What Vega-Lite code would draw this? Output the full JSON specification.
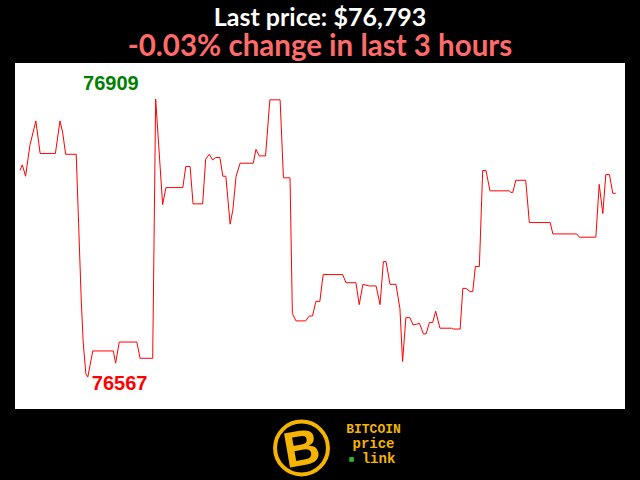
{
  "$schema": "https://vega.github.io/schema/vega-lite/v6.json",
  "background": "black",
  "padding": {"left": 15, "right": 15, "top": 5, "bottom": 0},
  "config": {"view": {"stroke": null}},
  "datasets": {
    "price": [
      {"minute": 0, "price": 76821}, {"minute": 0.7, "price": 76828}, {"minute": 1.7, "price": 76814},
      {"minute": 3.0, "price": 76852}, {"minute": 4.8, "price": 76882}, {"minute": 6.1, "price": 76842},
      {"minute": 10.7, "price": 76842}, {"minute": 12.1, "price": 76882}, {"minute": 12.9, "price": 76868},
      {"minute": 13.8, "price": 76841}, {"minute": 17.0, "price": 76841}, {"minute": 18.5, "price": 76663},
      {"minute": 19.1, "price": 76610}, {"minute": 19.9, "price": 76571}, {"minute": 20.5, "price": 76567},
      {"minute": 22.0, "price": 76599}, {"minute": 28.2, "price": 76599}, {"minute": 28.9, "price": 76584},
      {"minute": 30.0, "price": 76610}, {"minute": 35.3, "price": 76610}, {"minute": 36.3, "price": 76590},
      {"minute": 40.1, "price": 76590}, {"minute": 41.0, "price": 76909}, {"minute": 43.1, "price": 76779},
      {"minute": 44.1, "price": 76800}, {"minute": 49.2, "price": 76800}, {"minute": 50.1, "price": 76826},
      {"minute": 51.4, "price": 76826}, {"minute": 52.3, "price": 76780}, {"minute": 55.2, "price": 76780},
      {"minute": 56.1, "price": 76835}, {"minute": 57.2, "price": 76841}, {"minute": 58.2, "price": 76834},
      {"minute": 59.2, "price": 76837}, {"minute": 60.4, "price": 76837}, {"minute": 61.3, "price": 76814},
      {"minute": 62.2, "price": 76814}, {"minute": 63.5, "price": 76755}, {"minute": 64.3, "price": 76772},
      {"minute": 65.3, "price": 76814}, {"minute": 66.5, "price": 76830}, {"minute": 70.5, "price": 76830},
      {"minute": 71.3, "price": 76847}, {"minute": 72.3, "price": 76839}, {"minute": 74.2, "price": 76839},
      {"minute": 75.5, "price": 76908}, {"minute": 78.6, "price": 76908}, {"minute": 79.6, "price": 76812},
      {"minute": 81.6, "price": 76812}, {"minute": 82.3, "price": 76645}, {"minute": 83.4, "price": 76636},
      {"minute": 86.3, "price": 76636}, {"minute": 87.4, "price": 76642}, {"minute": 88.4, "price": 76642},
      {"minute": 89.4, "price": 76660}, {"minute": 90.6, "price": 76660}, {"minute": 91.6, "price": 76693},
      {"minute": 97.5, "price": 76693}, {"minute": 98.5, "price": 76683}, {"minute": 101.5, "price": 76683},
      {"minute": 102.5, "price": 76656}, {"minute": 103.6, "price": 76681}, {"minute": 105.5, "price": 76679},
      {"minute": 107.6, "price": 76679}, {"minute": 108.8, "price": 76656}, {"minute": 109.8, "price": 76709},
      {"minute": 110.6, "price": 76709}, {"minute": 111.8, "price": 76681}, {"minute": 113.6, "price": 76681},
      {"minute": 114.8, "price": 76651}, {"minute": 115.6, "price": 76586}, {"minute": 116.6, "price": 76640},
      {"minute": 117.8, "price": 76640}, {"minute": 118.8, "price": 76631}, {"minute": 119.9, "price": 76632},
      {"minute": 120.7, "price": 76633}, {"minute": 121.9, "price": 76620}, {"minute": 122.7, "price": 76620},
      {"minute": 123.7, "price": 76634}, {"minute": 124.7, "price": 76634}, {"minute": 125.6, "price": 76648},
      {"minute": 126.9, "price": 76627}, {"minute": 130.4, "price": 76627}, {"minute": 130.9, "price": 76626},
      {"minute": 133.0, "price": 76626}, {"minute": 133.8, "price": 76676}, {"minute": 134.8, "price": 76676},
      {"minute": 136.0, "price": 76672}, {"minute": 136.8, "price": 76672}, {"minute": 137.6, "price": 76703},
      {"minute": 138.8, "price": 76703}, {"minute": 139.8, "price": 76821}, {"minute": 140.8, "price": 76821},
      {"minute": 142.0, "price": 76796}, {"minute": 147.9, "price": 76796}, {"minute": 148.3, "price": 76794},
      {"minute": 148.9, "price": 76794}, {"minute": 149.8, "price": 76809}, {"minute": 152.8, "price": 76809},
      {"minute": 153.9, "price": 76757}, {"minute": 160.2, "price": 76757}, {"minute": 161.0, "price": 76743},
      {"minute": 168.2, "price": 76743}, {"minute": 169.0, "price": 76739}, {"minute": 174.0, "price": 76739},
      {"minute": 175.0, "price": 76804}, {"minute": 176.1, "price": 76768}, {"minute": 177.0, "price": 76816},
      {"minute": 178.1, "price": 76816}, {"minute": 179.1, "price": 76793}, {"minute": 180, "price": 76793}
    ],
    "logo": [{"word": "BITCOIN"}, {"word": "price"}, {"word": "link"}]
  },
  "spacing": 4,
  "center": true,
  "vconcat": [
    {
      "width": 610,
      "height": 346,
      "view": {"fill": "white", "stroke": null},
      "title": {
        "text": "Last price: $76,793",
        "subtitle": "-0.03% change in last 3 hours",
        "color": "white",
        "subtitleColor": "#FF6A6A",
        "font": "Lato",
        "subtitleFont": "Lato",
        "fontSize": 25,
        "subtitleFontSize": 29.5,
        "fontWeight": "bold",
        "subtitleFontWeight": "bold",
        "anchor": "middle",
        "offset": 2,
        "subtitlePadding": 2
      },
      "data": {"name": "price"},
      "encoding": {
        "x": {"field": "minute", "type": "quantitative", "scale": {"domain": [-1.5, 182.8], "nice": false, "zero": false}, "axis": null},
        "y": {"field": "price", "type": "quantitative", "scale": {"domain": [76527.6, 76953.3], "nice": false, "zero": false}, "axis": null}
      },
      "layer": [
        {"mark": {"type": "line", "color": "#FF0000", "strokeWidth": 1}},
        {
          "transform": [
            {"joinaggregate": [{"op": "max", "field": "price", "as": "pmax"}]},
            {"filter": "datum.price === datum.pmax"}
          ],
          "mark": {"type": "text", "align": "right", "baseline": "alphabetic", "dx": -17, "dy": -9, "font": "Liberation Sans", "fontWeight": "bold", "fontSize": 20, "color": "#008000"},
          "encoding": {"text": {"field": "price", "type": "quantitative", "format": "d"}}
        },
        {
          "transform": [
            {"joinaggregate": [{"op": "min", "field": "price", "as": "pmin"}]},
            {"filter": "datum.price === datum.pmin"}
          ],
          "mark": {"type": "text", "align": "left", "baseline": "alphabetic", "dx": 4, "dy": 13, "font": "Liberation Sans", "fontWeight": "bold", "fontSize": 20, "color": "#FF0000"},
          "encoding": {"text": {"field": "price", "type": "quantitative", "format": "d"}}
        }
      ]
    },
    {
      "spacing": 4,
      "hconcat": [
        {
          "width": 29,
          "height": 10,
          "data": {"name": "logo"},
          "transform": [{"filter": "datum.word === 'BITCOIN'"}],
          "mark": {"type": "point", "opacity": 0}
        },
        {
          "width": 64,
          "height": 64,
          "data": {"name": "logo"},
          "transform": [{"filter": "datum.word === 'BITCOIN'"}],
          "layer": [
            {"mark": {"type": "point", "shape": "circle", "size": 2800, "filled": false, "stroke": "#F4B400", "strokeWidth": 4, "opacity": 1}},
            {"mark": {"type": "text", "text": "B", "font": "Liberation Sans", "fontWeight": "bold", "fontSize": 50, "color": "#F4B400", "angle": -10, "baseline": "middle", "align": "center", "dy": 2}}
          ]
        },
        {
          "width": 66,
          "height": 56,
          "data": {"name": "logo"},
          "encoding": {
            "y": {"field": "word", "type": "nominal", "sort": ["BITCOIN", "price", "link"], "scale": {"padding": 0.867}, "axis": null}
          },
          "layer": [
            {
              "transform": [{"filter": "datum.word === 'BITCOIN'"}],
              "mark": {"type": "text", "font": "Liberation Mono", "fontWeight": "bold", "fontSize": 13, "color": "#F4B400", "baseline": "middle", "align": "center"},
              "encoding": {"text": {"field": "word"}}
            },
            {
              "transform": [{"filter": "datum.word === 'price'"}],
              "mark": {"type": "text", "font": "Liberation Mono", "fontWeight": "bold", "fontSize": 14, "color": "#F4B400", "baseline": "middle", "align": "center"},
              "encoding": {"text": {"field": "word"}}
            },
            {
              "transform": [{"filter": "datum.word === 'link'"}],
              "mark": {"type": "text", "font": "Liberation Mono", "fontWeight": "bold", "fontSize": 14, "color": "#F4B400", "baseline": "middle", "align": "center", "dx": 5},
              "encoding": {"text": {"field": "word"}}
            },
            {
              "transform": [{"filter": "datum.word === 'link'"}],
              "mark": {"type": "text", "text": "■", "font": "DejaVu Sans", "fontSize": 6, "color": "#2DB52D", "baseline": "middle", "align": "center", "dx": -22}
            }
          ]
        }
      ]
    }
  ]
}
